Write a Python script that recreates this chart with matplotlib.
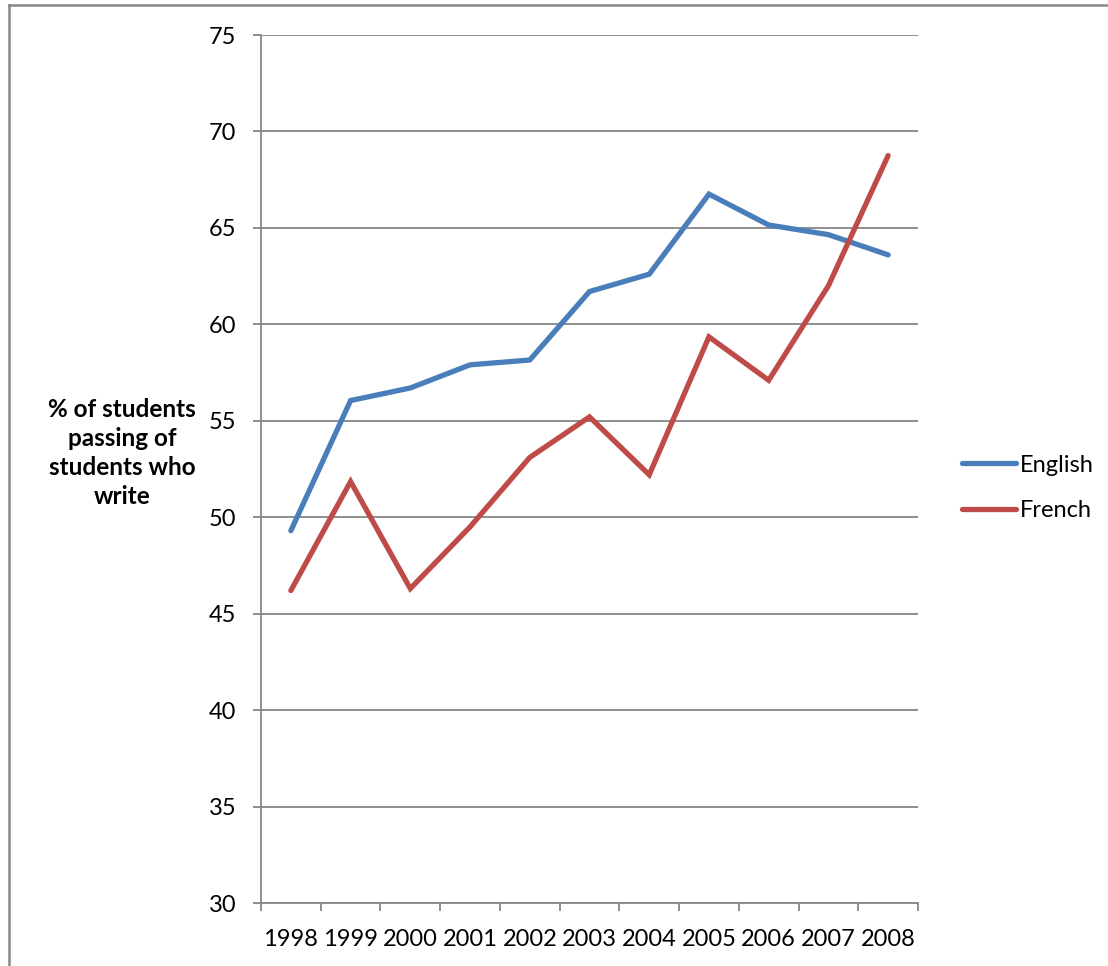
import matplotlib
matplotlib.use("Agg")
import matplotlib.pyplot as plt
from matplotlib.lines import Line2D
import numpy as np

years = ["1998", "1999", "2000", "2001", "2002", "2003", "2004", "2005", "2006", "2007", "2008"]
english = [49.3, 56.05, 56.7, 57.9, 58.15, 61.7, 62.6, 66.75, 65.15, 64.65, 63.6]
french = [46.2, 51.85, 46.3, 49.5, 53.1, 55.2, 52.2, 59.35, 57.1, 62.0, 68.75]
series_names = ["English", "French"]
colors = ["#4A7EBB", "#BE4B48"]
y_ticks = [30, 35, 40, 45, 50, 55, 60, 65, 70, 75]

plt.rcParams['font.family'] = ['Lato', 'DejaVu Sans']

W, H = 1108, 966
fig = plt.figure(figsize=(W / 100, H / 100), dpi=100)
left, right, top, bottom = 261, 918, 35, 903
ax = fig.add_axes([left / W, 1 - bottom / H, (right - left) / W, (bottom - top) / H])

x = np.arange(len(years))
for vals, c in zip([english, french], colors):
    ax.plot(x, vals, color=c, lw=3.8, solid_capstyle='round', solid_joinstyle='miter', zorder=3)

ax.set_xlim(-0.5, len(years) - 0.5)
ax.set_ylim(30, 75)
ax.set_yticks(y_ticks)
ax.yaxis.grid(True, color='#868686', lw=1.3)
ax.set_axisbelow(True)
for s in ['top', 'right']:
    ax.spines[s].set_visible(False)
for s in ['left', 'bottom']:
    ax.spines[s].set_color('#868686')
    ax.spines[s].set_linewidth(1.3)
ax.tick_params(axis='y', length=5.8, width=1.3, color='#868686', labelsize=17, pad=12)
ax.set_xticks(x)
ax.set_xticklabels(years)
ax.tick_params(axis='x', which='major', length=0, labelsize=17, pad=19)
ax.set_xticks(np.arange(len(years) + 1) - 0.5, minor=True)
ax.tick_params(axis='x', which='minor', length=5.8, width=1.3, color='#868686')

fig.text(122 / W, 1 - 453 / H, "% of students\npassing of\nstudents who\nwrite",
         ha='center', va='center', fontsize=17.5, fontweight='bold', linespacing=1.3)

# legend
handles = [Line2D([0], [0], color=c, lw=3.8, solid_capstyle='round') for c in colors]
leg = fig.legend(handles, series_names, loc='center left', bbox_to_anchor=(950 / W, 1 - 488 / H),
                 frameon=False, fontsize=17, handlelength=2.3, handletextpad=0.15,
                 labelspacing=1.05, borderpad=0)

# chart border (left and top visible)
fig.add_artist(Line2D([9 / W, 9 / W], [0, 1 - 5 / H], color='#868686', lw=1.8, transform=fig.transFigure))
fig.add_artist(Line2D([9 / W, 1], [1 - 5 / H, 1 - 5 / H], color='#868686', lw=1.8, transform=fig.transFigure))

fig.savefig("out.png", dpi=100, facecolor='white')
